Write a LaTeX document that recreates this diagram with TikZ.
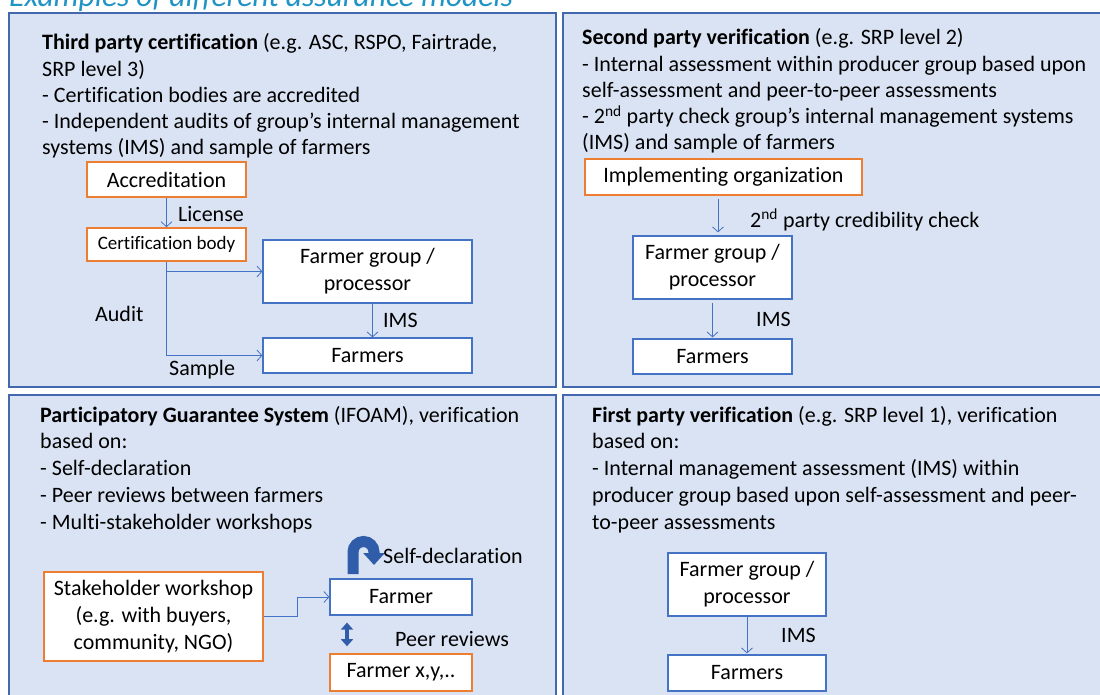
\documentclass[tikz,border=0pt]{standalone}
\usepackage{fontspec}
\setmainfont[Ligatures={TeX,NoCommon}]{Carlito}
\usetikzlibrary{arrows.meta}
\definecolor{panelfill}{RGB}{218,227,243}
\definecolor{panelline}{RGB}{68,104,176}
\definecolor{boxorange}{RGB}{237,125,49}
\definecolor{boxblue}{RGB}{68,114,196}
\definecolor{titleblue}{RGB}{32,148,196}
\definecolor{blockblue}{RGB}{47,93,170}
\begin{document}
\begin{tikzpicture}[x=1pt,y=-1pt,
  panel/.style={draw=panelline, fill=panelfill, line width=1.6pt},
  txtline/.style={anchor=base west, inner sep=0, font=\fontsize{22}{26}\selectfont},
  obox/.style={draw=boxorange, fill=white, line width=1.6pt, align=center, inner sep=0,
    font=\fontsize{22}{27}\selectfont},
  bbox/.style={draw=boxblue, fill=white, line width=1.2pt, align=center, inner sep=0,
    font=\fontsize{22}{27}\selectfont},
  flow/.style={draw=boxblue, line width=0.8pt, -{Straight Barb[length=5pt,width=11pt]}},
  lbl/.style={anchor=base west, inner sep=0, font=\fontsize{22}{26}\selectfont}]
\useasboundingbox (0,0) rectangle (1100,695);
\clip (0,0) rectangle (1100,695);

% heading
\node[anchor=base west, inner sep=0, text=titleblue,
  font=\fontsize{31.5}{36}\selectfont\itshape] (title) at (9,7)
  {Examples of different assurance models};

% four panels
\path[panel] (9,13) rectangle (556,387);
\path[panel] (563,13) rectangle (1106,387);
\path[panel] (9,395) rectangle (556,702);
\path[panel] (563,395) rectangle (1106,702);

% ---- third party certification ----
\foreach \txt [count=\i] in {
  {\textbf{Third party certification} (e.g. ASC, RSPO, Fairtrade,},
  {SRP level 3)},
  {- Certification bodies are accredited},
  {- Independent audits of group’s internal management},
  {systems (IMS) and sample of farmers}}
  \node[txtline] (tl\i) at (42,{50+26.25*(\i-1)}) {\txt};

\node[obox, minimum width=159pt, minimum height=35pt] (acc) at (166.5,179.5) {Accreditation};
\node[obox, minimum width=159pt, minimum height=33pt, font=\fontsize{19}{23}\selectfont]
  (cb) at (166.5,244.5) {Certification body};
\node[bbox, minimum width=209pt, minimum height=63pt] (fg1) at (367.5,271.5) {Farmer group /\\processor};
\node[bbox, minimum width=209pt, minimum height=35pt] (fm1) at (367.5,355.5) {Farmers};

\draw[flow] (acc) -- (cb);
\draw[flow] (cb.south) |- (fg1.west);
\draw[flow] (cb.south) |- (fm1.west);
\draw[flow] ([xshift=5pt]fg1.south) -- ([xshift=5pt]fm1.north);

\node[lbl] (lic) at (178,222) {License};
\node[lbl] (aud) at (95,321) {Audit};
\node[lbl] (smp) at (169,375) {Sample};
\node[lbl] (ims1) at (383,327) {IMS};

% ---- second party verification ----
\foreach \txt [count=\i] in {
  {\textbf{Second party verification} (e.g. SRP level 2)},
  {- Internal assessment within producer group based upon},
  {self-assessment and peer-to-peer assessments},
  {- 2\textsuperscript{nd} party check group’s internal management systems},
  {(IMS) and sample of farmers}}
  \node[txtline] (tr\i) at (582,{45+26.2*(\i-1)}) {\txt};

\node[obox, minimum width=277pt, minimum height=36pt] (io) at (723.5,177) {Implementing organization};
\node[bbox, minimum width=159pt, minimum height=63pt] (fg2) at (712.5,267.5) {Farmer group /\\processor};
\node[bbox, minimum width=159pt, minimum height=35pt] (fm2) at (712.5,356.5) {Farmers};

\draw[flow, shorten <=3pt, shorten >=3pt] ([xshift=-5.5pt]io.south) -- ([xshift=5.5pt]fg2.north);
\draw[flow, shorten <=3pt, shorten >=1pt] (fg2) -- (fm2);

\node[lbl] (cred) at (750,227) {2\textsuperscript{nd} party credibility check};
\node[lbl] (ims2) at (756,326) {IMS};

% ---- participatory guarantee system ----
\foreach \txt [count=\i] in {
  {\textbf{Participatory Guarantee System} (IFOAM), verification},
  {based on:},
  {- Self-declaration},
  {- Peer reviews between farmers},
  {- Multi-stakeholder workshops}}
  \node[txtline] (bl\i) at (40,{422+26.75*(\i-1)}) {\txt};

\node[obox, minimum width=219pt, minimum height=89pt] (sw) at (153.5,616.5)
  {Stakeholder workshop\\(e.g. with buyers,\\community, NGO)};
\node[bbox, minimum width=142pt, minimum height=36pt] (fa) at (401,597) {Farmer};
\node[obox, minimum width=142pt, minimum height=37pt] (fx) at (401,672.5) {Farmer x,y,..};

\draw[flow] (sw.east) -- ++(34,0) |- (fa.west);

% self-declaration: curved block arrow returning to the farmer
\draw[blockblue, line width=11pt, line cap=butt, -{Triangle[length=12pt,width=21pt]}]
  (353,574) -- (353,552) arc[start angle=180, end angle=360, radius=10.5] -- (374,565);
% peer reviews: two-headed block arrow
\draw[blockblue, line width=4pt, shorten <=7pt, shorten >=7pt,
  {Triangle[length=7pt,width=12pt]}-{Triangle[length=7pt,width=12pt]}]
  ([xshift=-54pt]fa.south) -- ([xshift=-54pt]fx.north);

\node[lbl] (selfd) at (383,563) {Self-declaration};
\node[lbl] (peer) at (395,646) {Peer reviews};

% ---- first party verification ----
\foreach \txt [count=\i] in {
  {\textbf{First party verification} (e.g. SRP level 1), verification},
  {based on:},
  {- Internal management assessment (IMS) within},
  {producer group based upon self-assessment and peer-},
  {to-peer assessments}}
  \node[txtline] (br\i) at (592,{422+26.75*(\i-1)}) {\txt};

\node[bbox, minimum width=158pt, minimum height=63pt] (fg3) at (747,584.5) {Farmer group /\\processor};
\node[bbox, minimum width=158pt, minimum height=36pt] (fm3) at (747,673) {Farmers};
\draw[flow, shorten >=1pt] (fg3) -- (fm3);
\node[lbl] (ims3) at (781,642) {IMS};
\end{tikzpicture}
\end{document}
